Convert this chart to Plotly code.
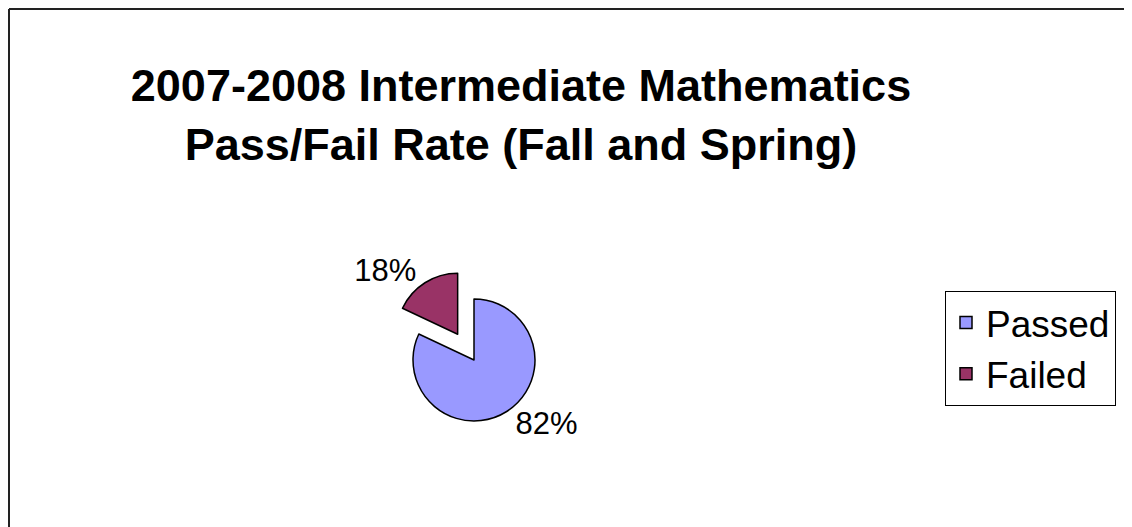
import plotly.graph_objects as go

labels = ["Passed", "Failed"]
values = [82, 18]
colors = ["#9999FF", "#993366"]
pulls = [0, 0.5]

W, H = 1132, 527
FONT = "Arial, Liberation Sans, sans-serif"

def px_x(x):
    return x / W

def px_y(y):
    return 1 - y / H

# pie centre and half-size of its domain in paper pixels
cx, cy, half = 466, 352, 91.5

fig = go.Figure(go.Pie(
    labels=labels,
    values=values,
    marker=dict(colors=colors, line=dict(color="black", width=1.5)),
    pull=pulls,
    sort=False,
    direction="clockwise",
    rotation=0,
    textinfo="percent",
    textposition="outside",
    texttemplate="%{percent:.0%}",
    textfont=dict(family=FONT, size=31, color="black"),
    domain=dict(x=[px_x(cx - half), px_x(cx + half)], y=[px_y(cy + half), px_y(cy - half)]),
    hoverinfo="label+percent",
))

fig.update_layout(
    width=W, height=H,
    margin=dict(l=0, r=0, t=0, b=0),
    paper_bgcolor="white",
    plot_bgcolor="white",
    title=dict(
        text="<b>2007-2008 Intermediate Mathematics<br>Pass/Fail Rate (Fall and Spring)</b>",
        font=dict(family=FONT, size=45, color="black"),
        x=px_x(513), xanchor="center",
        y=px_y(93), yanchor="top",
        xref="paper", yref="paper",
    ),
    showlegend=True,
    legend=dict(
        x=px_x(937), y=px_y(283), xanchor="left", yanchor="top",
        font=dict(family=FONT, size=37, color="black"),
        bordercolor="black", borderwidth=1, bgcolor="white",
        entrywidth=140, entrywidthmode="pixels",
    ),
    shapes=[
        dict(type="line", xref="paper", yref="paper", x0=px_x(1), x1=px_x(1), y0=-0.1, y1=px_y(1),
             line=dict(color="#222222", width=2)),
        dict(type="line", xref="paper", yref="paper", x0=px_x(1), x1=1.1, y0=px_y(1), y1=px_y(1),
             line=dict(color="#222222", width=2)),
    ],
)

fig.write_html("out.html")
